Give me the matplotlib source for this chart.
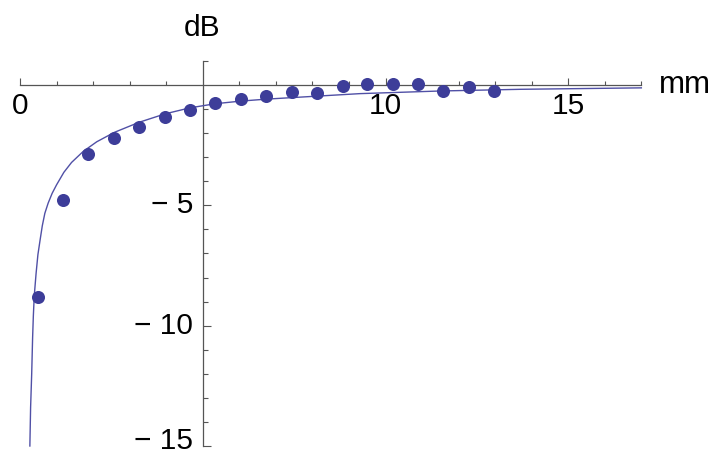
import matplotlib
matplotlib.use("Agg")
import matplotlib.pyplot as plt
from matplotlib.ticker import FixedLocator, FixedFormatter
from matplotlib.transforms import ScaledTranslation

plt.rcParams['font.family'] = ['Liberation Sans', 'DejaVu Sans']

# measured points (mm, dB)
point_x = [0.48, 1.18, 1.87, 2.58, 3.26, 3.97, 4.65, 5.34, 6.04, 6.73,
           7.43, 8.12, 8.83, 9.50, 10.20, 10.90, 11.58, 12.29, 12.97]
point_y = [-8.79, -4.76, -2.85, -2.20, -1.76, -1.32, -1.04, -0.76, -0.60, -0.45,
           -0.28, -0.35, -0.05, 0.06, 0.04, 0.04, -0.26, -0.10, -0.25]

# fitted curve
curve_x = [0.27, 0.29, 0.32, 0.345, 0.365, 0.39, 0.44, 0.49, 0.55, 0.61, 0.68, 0.77,
           0.88, 1.0, 1.2, 1.41, 1.73, 2.1, 2.58, 3.26, 3.97, 4.65, 5.34, 6.04,
           6.73, 7.5, 9.3, 11.5, 13.7, 17.0]
curve_y = [-15.0, -13.4, -12.0, -10.5, -9.6, -8.76, -7.83, -7.05, -6.44, -5.85, -5.33, -4.91,
           -4.50, -4.15, -3.63, -3.22, -2.76, -2.36, -1.97, -1.55, -1.20, -0.95, -0.78, -0.67,
           -0.59, -0.52, -0.36, -0.25, -0.18, -0.12]

x_major = [0, 10, 15]
x_major_labels = ['0', '10', '15']
x_minor = [1, 2, 3, 4, 6, 7, 8, 9, 11, 12, 13, 14, 16, 17]
y_major = [-15, -10, -5]
y_major_labels = ['\u2212 15', '\u2212 10', '\u2212 5']
y_minor = [1, -1, -2, -3, -4, -6, -7, -8, -9, -11, -12, -13, -14]

W, H = 717, 455
fig = plt.figure(figsize=(W / 100, H / 100), dpi=100)
x0_px, x1_px = 20, 20 + 17 * 36.55
y_top_px, y_bot_px = 60.9, 446
ax = fig.add_axes([x0_px / W, (H - y_bot_px) / H, (x1_px - x0_px) / W, (y_bot_px - y_top_px) / H])
ax.set_xlim(0, 17)
ax.set_ylim(-15, 1)
ax.patch.set_alpha(0)

for s in ['top', 'right']:
    ax.spines[s].set_visible(False)
ax.spines['left'].set_position(('data', 5))
ax.spines['bottom'].set_position(('data', 0))
axis_col = '#555555'
for s in ['left', 'bottom']:
    ax.spines[s].set_color(axis_col)
    ax.spines[s].set_linewidth(0.9)
    ax.spines[s].set_zorder(1)

ax.xaxis.set_major_locator(FixedLocator(x_major))
ax.xaxis.set_major_formatter(FixedFormatter(x_major_labels))
ax.xaxis.set_minor_locator(FixedLocator(x_minor))
ax.yaxis.set_major_locator(FixedLocator(y_major))
ax.yaxis.set_major_formatter(FixedFormatter(y_major_labels))
ax.yaxis.set_minor_locator(FixedLocator(y_minor))

fs = 21.5
ax.tick_params(axis='x', which='major', direction='in', length=5.2, width=0.8,
               color=axis_col, labelsize=fs, pad=5.0)
ax.tick_params(axis='x', which='minor', direction='in', length=3.2, width=0.8, color=axis_col)
ax.tick_params(axis='y', which='major', direction='in', length=5.8, width=0.8,
               color=axis_col, labelsize=fs, pad=7)
ax.tick_params(axis='y', which='minor', direction='in', length=3.4, width=0.8, color=axis_col)

ax.plot(curve_x, curve_y, color='#5050a6', lw=1.0, zorder=3, clip_on=False)
ax.plot(point_x, point_y, 'o', color='#3d3d99', ms=9.4, mec='none', zorder=4, clip_on=False)

fig.text(202 / W, 1 - 28 / H, 'dB', fontsize=fs, ha='center', va='center')
fig.text(659 / W, 1 - 85 / H, 'mm', fontsize=fs + 1, ha='left', va='center')

fig.canvas.draw()
for val, lab in zip(ax.get_yticks(), ax.get_yticklabels()):
    up = 8 if val == -15 else 3
    lab.set_transform(lab.get_transform() + ScaledTranslation(0, up / 100, fig.dpi_scale_trans))

fig.savefig('out.png', dpi=100)
